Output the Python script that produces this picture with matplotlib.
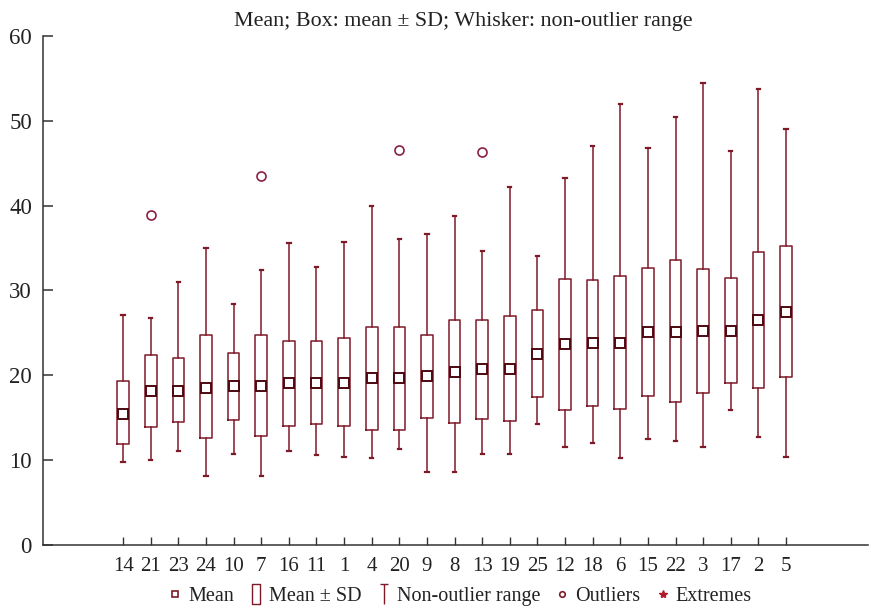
import numpy as np
import matplotlib
matplotlib.use("Agg")
import matplotlib.pyplot as plt
from matplotlib.lines import Line2D
from matplotlib.path import Path

plt.rcParams['font.family'] = ['Liberation Serif', 'DejaVu Serif']

# groups in plotted order
labels = ['14', '21', '23', '24', '10', '7', '16', '11', '1', '4', '20', '9', '8',
          '13', '19', '25', '12', '18', '6', '15', '22', '3', '17', '2', '5']
means = [15.5, 18.1, 18.2, 18.5, 18.7, 18.8, 19.1, 19.1, 19.1, 19.7, 19.7, 19.9, 20.4,
         20.7, 20.7, 22.5, 23.7, 23.8, 23.8, 25.1, 25.1, 25.2, 25.2, 26.5, 27.5]
# box = mean +/- SD
box_hi = [19.3, 22.4, 22.1, 24.7, 22.6, 24.8, 24.1, 24.0, 24.4, 25.7, 25.7, 24.8, 26.5,
          26.5, 27.0, 27.7, 31.4, 31.2, 31.7, 32.7, 33.6, 32.5, 31.5, 34.5, 35.3]
box_lo = [11.9, 13.9, 14.5, 12.6, 14.7, 12.8, 14.0, 14.3, 14.0, 13.6, 13.6, 15.0, 14.4,
          14.9, 14.6, 17.4, 15.9, 16.4, 16.0, 17.6, 16.9, 17.9, 19.1, 18.5, 19.8]
# whiskers = non-outlier range
whisk_hi = [27.1, 26.7, 31.0, 35.0, 28.4, 32.4, 35.6, 32.8, 35.7, 40.0, 36.1, 36.7, 38.8,
            34.7, 42.2, 34.1, 43.3, 47.0, 52.0, 46.8, 50.5, 54.5, 46.4, 53.7, 49.0]
whisk_lo = [9.8, 10.0, 11.1, 8.1, 10.7, 8.1, 11.1, 10.6, 10.4, 10.3, 11.3, 8.6, 8.6,
            10.7, 10.7, 14.3, 11.5, 12.0, 10.2, 12.5, 12.2, 11.5, 15.9, 12.7, 10.4]
outliers = {'21': [38.9], '7': [43.5], '20': [46.6], '13': [46.3]}

box_col = '#7e1a28'
mean_col = '#4e0810'
spine_col = '#333333'

stats = []
for i, lab in enumerate(labels):
    stats.append(dict(label=lab, med=means[i], mean=means[i],
                      q1=box_lo[i], q3=box_hi[i],
                      whislo=whisk_lo[i], whishi=whisk_hi[i],
                      fliers=outliers.get(lab, [])))

fig = plt.figure(figsize=(8.71, 6.09), dpi=100)
ax = fig.add_axes([0.0494, 0.1051, 0.9472, 0.8358])

pos = np.arange(len(labels))
ax.bxp(stats, positions=pos, widths=0.42, showmeans=True, showfliers=True,
       boxprops=dict(color=box_col, linewidth=1.1),
       whiskerprops=dict(color=box_col, linewidth=1.1),
       capprops=dict(color=box_col, linewidth=1.6),
       capwidths=0.12,
       medianprops=dict(linewidth=0),
       meanprops=dict(marker='s', markerfacecolor='white', markeredgecolor=mean_col,
                      markeredgewidth=1.4, markersize=7.5),
       flierprops=dict(marker='o', markerfacecolor='none', markeredgecolor='#8a2040',
                       markeredgewidth=1.2, markersize=6.5))

ax.set_xlim(-2.9, 26.97)
ax.set_ylim(0, 60)
ax.set_yticks([0, 10, 20, 30, 40, 50, 60])
ax.set_xticks(pos)
ax.set_xticklabels(labels)
for s in ['top', 'right']:
    ax.spines[s].set_visible(False)
for s in ['left', 'bottom']:
    ax.spines[s].set_color(spine_col)
    ax.spines[s].set_linewidth(1.1)
ax.tick_params(axis='y', direction='in', length=7, width=1.1, color=spine_col,
               labelsize=16.5, pad=8, labelcolor='#222222')
ax.tick_params(axis='x', direction='in', length=6, width=1.0, color=spine_col,
               labelsize=15, pad=9, labelcolor='#222222')

ax.set_title('Mean; Box: mean ± SD; Whisker: non-outlier range',
             fontsize=15.8, color='#222222', pad=7, x=0.51)

# legend handles
rect = Path([(-0.35, -1), (0.35, -1), (0.35, 1), (-0.35, 1), (-0.35, -1)])
ibeam = Path([(-0.4, 1), (0.4, 1), (0, 1), (0, -1)],
             [Path.MOVETO, Path.LINETO, Path.MOVETO, Path.LINETO])
handles = [
    Line2D([], [], ls='none', marker='s', markersize=5, markerfacecolor='white',
           markeredgecolor=box_col, markeredgewidth=1.2),
    Line2D([], [], ls='none', marker=rect, markersize=15, markerfacecolor='none',
           markeredgecolor=box_col, markeredgewidth=1.0),
    Line2D([], [], ls='none', marker=ibeam, markersize=15, markerfacecolor='none',
           markeredgecolor=box_col, markeredgewidth=1.0),
    Line2D([], [], ls='none', marker='o', markersize=4, markerfacecolor='none',
           markeredgecolor=box_col, markeredgewidth=1.2),
    Line2D([], [], ls='none', marker='*', markersize=6, color='#b01c2c'),
]
names = ['Mean', 'Mean ± SD', 'Non-outlier range', 'Outliers', 'Extremes']
fig.legend(handles, names, loc='center', bbox_to_anchor=(0.528, 0.021), ncol=5,
           frameon=False, fontsize=14.5, handlelength=0.7, handletextpad=0.3,
           columnspacing=0.75, labelcolor='#222222', borderpad=0.1)

fig.savefig('out.png', dpi=100)
